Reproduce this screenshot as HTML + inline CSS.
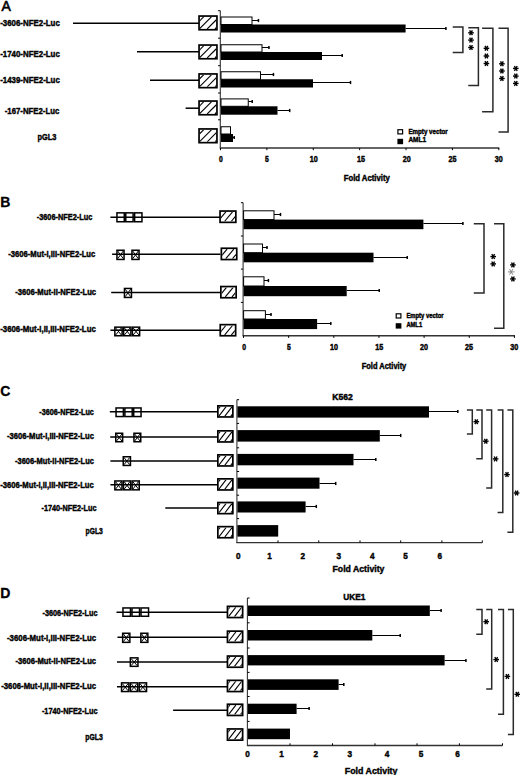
<!DOCTYPE html><html><head><meta charset="utf-8"><style>html,body{margin:0;padding:0;background:#fff;}svg{display:block;}text{font-family:"Liberation Sans",sans-serif;}</style></head><body>
<svg width="520" height="775" viewBox="0 0 520 775">
<rect x="0" y="0" width="520" height="775" fill="#fff"/>
<text x="1.50" y="10.90" font-size="14" font-weight="normal" fill="#000" stroke="#000" stroke-width="0.6">A</text>
<text x="0.21" y="26.00" font-size="8.9" font-weight="bold" fill="#000" stroke="#000" stroke-width="0.42" textLength="59.58" lengthAdjust="spacingAndGlyphs">-3606-NFE2-Luc</text>
<text x="0.21" y="57.00" font-size="8.9" font-weight="bold" fill="#000" stroke="#000" stroke-width="0.42" textLength="59.58" lengthAdjust="spacingAndGlyphs">-1740-NFE2-Luc</text>
<text x="0.21" y="83.00" font-size="8.9" font-weight="bold" fill="#000" stroke="#000" stroke-width="0.42" textLength="59.58" lengthAdjust="spacingAndGlyphs">-1439-NFE2-Luc</text>
<text x="4.71" y="114.20" font-size="8.9" font-weight="bold" fill="#000" stroke="#000" stroke-width="0.42" textLength="54.58" lengthAdjust="spacingAndGlyphs">-167-NFE2-Luc</text>
<text x="37.41" y="140.00" font-size="8.9" font-weight="bold" fill="#000" stroke="#000" stroke-width="0.42" textLength="18.88" lengthAdjust="spacingAndGlyphs">pGL3</text>
<line x1="73.00" y1="23.30" x2="199.00" y2="23.30" stroke="#000" stroke-width="1.5"/>
<line x1="137.00" y1="51.80" x2="199.00" y2="51.80" stroke="#000" stroke-width="1.5"/>
<line x1="150.00" y1="80.30" x2="199.00" y2="80.30" stroke="#000" stroke-width="1.5"/>
<line x1="185.60" y1="108.20" x2="199.00" y2="108.20" stroke="#000" stroke-width="1.5"/>
<g>
<rect x="199.05" y="16.05" width="17.90" height="13.70" fill="#fff" stroke="#000" stroke-width="1.7"/>
<clipPath id="c15"><rect x="199.90" y="16.90" width="16.20" height="12.00"/></clipPath>
<g clip-path="url(#c15)">
<line x1="183.80" y1="28.90" x2="195.80" y2="16.90" stroke="#000" stroke-width="1.1"/>
<line x1="191.60" y1="28.90" x2="203.60" y2="16.90" stroke="#000" stroke-width="1.1"/>
<line x1="199.40" y1="28.90" x2="211.40" y2="16.90" stroke="#000" stroke-width="1.1"/>
<line x1="207.20" y1="28.90" x2="219.20" y2="16.90" stroke="#000" stroke-width="1.1"/>
<line x1="215.00" y1="28.90" x2="227.00" y2="16.90" stroke="#000" stroke-width="1.1"/>
</g></g>
<g>
<rect x="199.05" y="45.05" width="17.90" height="13.70" fill="#fff" stroke="#000" stroke-width="1.7"/>
<clipPath id="c25"><rect x="199.90" y="45.90" width="16.20" height="12.00"/></clipPath>
<g clip-path="url(#c25)">
<line x1="183.80" y1="57.90" x2="195.80" y2="45.90" stroke="#000" stroke-width="1.1"/>
<line x1="191.60" y1="57.90" x2="203.60" y2="45.90" stroke="#000" stroke-width="1.1"/>
<line x1="199.40" y1="57.90" x2="211.40" y2="45.90" stroke="#000" stroke-width="1.1"/>
<line x1="207.20" y1="57.90" x2="219.20" y2="45.90" stroke="#000" stroke-width="1.1"/>
<line x1="215.00" y1="57.90" x2="227.00" y2="45.90" stroke="#000" stroke-width="1.1"/>
</g></g>
<g>
<rect x="199.05" y="73.95" width="17.90" height="13.70" fill="#fff" stroke="#000" stroke-width="1.7"/>
<clipPath id="c35"><rect x="199.90" y="74.80" width="16.20" height="12.00"/></clipPath>
<g clip-path="url(#c35)">
<line x1="183.80" y1="86.80" x2="195.80" y2="74.80" stroke="#000" stroke-width="1.1"/>
<line x1="191.60" y1="86.80" x2="203.60" y2="74.80" stroke="#000" stroke-width="1.1"/>
<line x1="199.40" y1="86.80" x2="211.40" y2="74.80" stroke="#000" stroke-width="1.1"/>
<line x1="207.20" y1="86.80" x2="219.20" y2="74.80" stroke="#000" stroke-width="1.1"/>
<line x1="215.00" y1="86.80" x2="227.00" y2="74.80" stroke="#000" stroke-width="1.1"/>
</g></g>
<g>
<rect x="199.05" y="101.05" width="17.90" height="13.70" fill="#fff" stroke="#000" stroke-width="1.7"/>
<clipPath id="c45"><rect x="199.90" y="101.90" width="16.20" height="12.00"/></clipPath>
<g clip-path="url(#c45)">
<line x1="183.80" y1="113.90" x2="195.80" y2="101.90" stroke="#000" stroke-width="1.1"/>
<line x1="191.60" y1="113.90" x2="203.60" y2="101.90" stroke="#000" stroke-width="1.1"/>
<line x1="199.40" y1="113.90" x2="211.40" y2="101.90" stroke="#000" stroke-width="1.1"/>
<line x1="207.20" y1="113.90" x2="219.20" y2="101.90" stroke="#000" stroke-width="1.1"/>
<line x1="215.00" y1="113.90" x2="227.00" y2="101.90" stroke="#000" stroke-width="1.1"/>
</g></g>
<g>
<rect x="199.05" y="128.95" width="17.90" height="13.70" fill="#fff" stroke="#000" stroke-width="1.7"/>
<clipPath id="c55"><rect x="199.90" y="129.80" width="16.20" height="12.00"/></clipPath>
<g clip-path="url(#c55)">
<line x1="183.80" y1="141.80" x2="195.80" y2="129.80" stroke="#000" stroke-width="1.1"/>
<line x1="191.60" y1="141.80" x2="203.60" y2="129.80" stroke="#000" stroke-width="1.1"/>
<line x1="199.40" y1="141.80" x2="211.40" y2="129.80" stroke="#000" stroke-width="1.1"/>
<line x1="207.20" y1="141.80" x2="219.20" y2="129.80" stroke="#000" stroke-width="1.1"/>
<line x1="215.00" y1="141.80" x2="227.00" y2="129.80" stroke="#000" stroke-width="1.1"/>
</g></g>
<line x1="220.30" y1="10.70" x2="220.30" y2="148.30" stroke="#333" stroke-width="1.1"/>
<line x1="218.10" y1="10.70" x2="220.30" y2="10.70" stroke="#000" stroke-width="1.0"/>
<line x1="218.10" y1="38.20" x2="220.30" y2="38.20" stroke="#000" stroke-width="1.0"/>
<line x1="218.10" y1="65.70" x2="220.30" y2="65.70" stroke="#000" stroke-width="1.0"/>
<line x1="218.10" y1="93.00" x2="220.30" y2="93.00" stroke="#000" stroke-width="1.0"/>
<line x1="218.10" y1="119.80" x2="220.30" y2="119.80" stroke="#000" stroke-width="1.0"/>
<line x1="219.80" y1="148.00" x2="499.30" y2="148.00" stroke="#333" stroke-width="1.4"/>
<line x1="220.50" y1="148.00" x2="220.50" y2="150.20" stroke="#000" stroke-width="1.0"/>
<line x1="266.88" y1="148.00" x2="266.88" y2="150.20" stroke="#000" stroke-width="1.0"/>
<line x1="313.27" y1="148.00" x2="313.27" y2="150.20" stroke="#000" stroke-width="1.0"/>
<line x1="359.65" y1="148.00" x2="359.65" y2="150.20" stroke="#000" stroke-width="1.0"/>
<line x1="406.04" y1="148.00" x2="406.04" y2="150.20" stroke="#000" stroke-width="1.0"/>
<line x1="452.42" y1="148.00" x2="452.42" y2="150.20" stroke="#000" stroke-width="1.0"/>
<line x1="498.81" y1="148.00" x2="498.81" y2="150.20" stroke="#000" stroke-width="1.0"/>
<text x="219.11" y="162.00" font-size="8.3" font-weight="bold" fill="#000" stroke="#000" stroke-width="0.42" textLength="3.78" lengthAdjust="spacingAndGlyphs">0</text>
<text x="265.11" y="162.00" font-size="8.3" font-weight="bold" fill="#000" stroke="#000" stroke-width="0.42" textLength="3.78" lengthAdjust="spacingAndGlyphs">5</text>
<text x="309.76" y="162.00" font-size="8.3" font-weight="bold" fill="#000" stroke="#000" stroke-width="0.42" textLength="7.98" lengthAdjust="spacingAndGlyphs">10</text>
<text x="357.01" y="162.00" font-size="8.3" font-weight="bold" fill="#000" stroke="#000" stroke-width="0.42" textLength="7.98" lengthAdjust="spacingAndGlyphs">15</text>
<text x="402.71" y="162.00" font-size="8.3" font-weight="bold" fill="#000" stroke="#000" stroke-width="0.42" textLength="7.98" lengthAdjust="spacingAndGlyphs">20</text>
<text x="448.41" y="162.00" font-size="8.3" font-weight="bold" fill="#000" stroke="#000" stroke-width="0.42" textLength="7.98" lengthAdjust="spacingAndGlyphs">25</text>
<text x="494.81" y="162.00" font-size="8.3" font-weight="bold" fill="#000" stroke="#000" stroke-width="0.42" textLength="7.98" lengthAdjust="spacingAndGlyphs">30</text>
<text x="343.71" y="180.80" font-size="8.2" font-weight="bold" fill="#000" stroke="#000" stroke-width="0.42" textLength="46.08" lengthAdjust="spacingAndGlyphs">Fold Activity</text>
<rect x="397.90" y="129.70" width="4.70" height="4.20" fill="#fff" stroke="#000" stroke-width="1.2"/>
<rect x="397.40" y="138.80" width="5.70" height="5.40" fill="#000"/>
<text x="408.41" y="134.10" font-size="7.0" font-weight="bold" fill="#000" stroke="#000" stroke-width="0.42" textLength="39.28" lengthAdjust="spacingAndGlyphs">Empty vector</text>
<text x="408.41" y="142.20" font-size="7.0" font-weight="bold" fill="#000" stroke="#000" stroke-width="0.42" textLength="17.68" lengthAdjust="spacingAndGlyphs">AML1</text>
<line x1="252.00" y1="20.50" x2="258.75" y2="20.50" stroke="#000" stroke-width="1.0"/>
<line x1="258.45" y1="18.90" x2="258.45" y2="22.10" stroke="#000" stroke-width="1.5"/>
<rect x="221.00" y="17.00" width="31.00" height="7.50" fill="#fff" stroke="#000" stroke-width="1.0"/>
<line x1="405.60" y1="28.50" x2="446.20" y2="28.50" stroke="#000" stroke-width="1.0"/>
<line x1="445.90" y1="26.90" x2="445.90" y2="30.10" stroke="#000" stroke-width="1.5"/>
<rect x="221.00" y="24.50" width="184.60" height="8.00" fill="#000"/>
<line x1="262.00" y1="47.50" x2="269.25" y2="47.50" stroke="#000" stroke-width="1.0"/>
<line x1="268.95" y1="45.90" x2="268.95" y2="49.10" stroke="#000" stroke-width="1.5"/>
<rect x="221.00" y="44.75" width="41.00" height="7.25" fill="#fff" stroke="#000" stroke-width="1.0"/>
<line x1="322.00" y1="55.50" x2="342.50" y2="55.50" stroke="#000" stroke-width="1.0"/>
<line x1="342.20" y1="53.90" x2="342.20" y2="57.10" stroke="#000" stroke-width="1.5"/>
<rect x="221.00" y="52.00" width="101.00" height="8.00" fill="#000"/>
<line x1="260.50" y1="74.50" x2="273.75" y2="74.50" stroke="#000" stroke-width="1.0"/>
<line x1="273.45" y1="72.90" x2="273.45" y2="76.10" stroke="#000" stroke-width="1.5"/>
<rect x="221.00" y="71.75" width="39.50" height="7.50" fill="#fff" stroke="#000" stroke-width="1.0"/>
<line x1="313.00" y1="82.50" x2="350.80" y2="82.50" stroke="#000" stroke-width="1.0"/>
<line x1="350.50" y1="80.90" x2="350.50" y2="84.10" stroke="#000" stroke-width="1.5"/>
<rect x="221.00" y="79.25" width="92.00" height="8.25" fill="#000"/>
<line x1="248.25" y1="101.50" x2="252.50" y2="101.50" stroke="#000" stroke-width="1.0"/>
<line x1="252.20" y1="99.90" x2="252.20" y2="103.10" stroke="#000" stroke-width="1.5"/>
<rect x="221.00" y="98.90" width="27.25" height="7.40" fill="#fff" stroke="#000" stroke-width="1.0"/>
<line x1="277.50" y1="110.50" x2="290.00" y2="110.50" stroke="#000" stroke-width="1.0"/>
<line x1="289.70" y1="108.90" x2="289.70" y2="112.10" stroke="#000" stroke-width="1.5"/>
<rect x="221.00" y="106.30" width="56.50" height="8.40" fill="#000"/>
<rect x="221.00" y="126.75" width="9.50" height="7.25" fill="#fff" stroke="#000" stroke-width="1.0"/>
<line x1="233.00" y1="137.50" x2="234.50" y2="137.50" stroke="#000" stroke-width="1.0"/>
<line x1="234.20" y1="135.90" x2="234.20" y2="139.10" stroke="#000" stroke-width="1.5"/>
<rect x="221.00" y="134.00" width="12.00" height="8.00" fill="#000"/>
<polyline points="452.70,26.90 462.90,26.90 462.90,52.60 452.70,52.60" fill="none" stroke="#2a2a2a" stroke-width="1.5"/>
<line x1="468.20" y1="32.80" x2="473.80" y2="32.80" stroke="#000" stroke-width="1.4"/>
<line x1="469.60" y1="30.38" x2="472.40" y2="35.22" stroke="#000" stroke-width="1.4"/>
<line x1="472.40" y1="30.38" x2="469.60" y2="35.22" stroke="#000" stroke-width="1.4"/>
<line x1="468.20" y1="40.10" x2="473.80" y2="40.10" stroke="#000" stroke-width="1.4"/>
<line x1="469.60" y1="37.68" x2="472.40" y2="42.52" stroke="#000" stroke-width="1.4"/>
<line x1="472.40" y1="37.68" x2="469.60" y2="42.52" stroke="#000" stroke-width="1.4"/>
<line x1="468.20" y1="47.50" x2="473.80" y2="47.50" stroke="#000" stroke-width="1.4"/>
<line x1="469.60" y1="45.08" x2="472.40" y2="49.92" stroke="#000" stroke-width="1.4"/>
<line x1="472.40" y1="45.08" x2="469.60" y2="49.92" stroke="#000" stroke-width="1.4"/>
<polyline points="468.30,27.70 478.40,27.70 478.40,85.40 468.30,85.40" fill="none" stroke="#2a2a2a" stroke-width="1.5"/>
<line x1="483.60" y1="48.30" x2="489.20" y2="48.30" stroke="#000" stroke-width="1.4"/>
<line x1="485.00" y1="45.88" x2="487.80" y2="50.72" stroke="#000" stroke-width="1.4"/>
<line x1="487.80" y1="45.88" x2="485.00" y2="50.72" stroke="#000" stroke-width="1.4"/>
<line x1="483.60" y1="56.00" x2="489.20" y2="56.00" stroke="#000" stroke-width="1.4"/>
<line x1="485.00" y1="53.58" x2="487.80" y2="58.42" stroke="#000" stroke-width="1.4"/>
<line x1="487.80" y1="53.58" x2="485.00" y2="58.42" stroke="#000" stroke-width="1.4"/>
<line x1="483.60" y1="63.50" x2="489.20" y2="63.50" stroke="#000" stroke-width="1.4"/>
<line x1="485.00" y1="61.08" x2="487.80" y2="65.92" stroke="#000" stroke-width="1.4"/>
<line x1="487.80" y1="61.08" x2="485.00" y2="65.92" stroke="#000" stroke-width="1.4"/>
<polyline points="482.10,28.20 492.90,28.20 492.90,111.70 482.10,111.70" fill="none" stroke="#2a2a2a" stroke-width="1.5"/>
<line x1="499.10" y1="63.80" x2="504.70" y2="63.80" stroke="#000" stroke-width="1.4"/>
<line x1="500.50" y1="61.38" x2="503.30" y2="66.22" stroke="#000" stroke-width="1.4"/>
<line x1="503.30" y1="61.38" x2="500.50" y2="66.22" stroke="#000" stroke-width="1.4"/>
<line x1="499.10" y1="71.00" x2="504.70" y2="71.00" stroke="#000" stroke-width="1.4"/>
<line x1="500.50" y1="68.58" x2="503.30" y2="73.42" stroke="#000" stroke-width="1.4"/>
<line x1="503.30" y1="68.58" x2="500.50" y2="73.42" stroke="#000" stroke-width="1.4"/>
<line x1="499.10" y1="78.50" x2="504.70" y2="78.50" stroke="#000" stroke-width="1.4"/>
<line x1="500.50" y1="76.08" x2="503.30" y2="80.92" stroke="#000" stroke-width="1.4"/>
<line x1="503.30" y1="76.08" x2="500.50" y2="80.92" stroke="#000" stroke-width="1.4"/>
<polyline points="498.50,28.30 508.10,28.30 508.10,131.90 498.50,131.90" fill="none" stroke="#2a2a2a" stroke-width="1.5"/>
<line x1="513.00" y1="68.40" x2="518.60" y2="68.40" stroke="#000" stroke-width="1.4"/>
<line x1="514.40" y1="65.98" x2="517.20" y2="70.82" stroke="#000" stroke-width="1.4"/>
<line x1="517.20" y1="65.98" x2="514.40" y2="70.82" stroke="#000" stroke-width="1.4"/>
<line x1="513.00" y1="76.10" x2="518.60" y2="76.10" stroke="#000" stroke-width="1.4"/>
<line x1="514.40" y1="73.68" x2="517.20" y2="78.52" stroke="#000" stroke-width="1.4"/>
<line x1="517.20" y1="73.68" x2="514.40" y2="78.52" stroke="#000" stroke-width="1.4"/>
<line x1="513.00" y1="83.40" x2="518.60" y2="83.40" stroke="#000" stroke-width="1.4"/>
<line x1="514.40" y1="80.98" x2="517.20" y2="85.82" stroke="#000" stroke-width="1.4"/>
<line x1="517.20" y1="80.98" x2="514.40" y2="85.82" stroke="#000" stroke-width="1.4"/>
<text x="0.25" y="206.50" font-size="14" font-weight="bold" fill="#000" stroke="#000" stroke-width="0.3">B</text>
<text x="36.71" y="219.70" font-size="8.7" font-weight="bold" fill="#000" stroke="#000" stroke-width="0.42" textLength="55.58" lengthAdjust="spacingAndGlyphs">-3606-NFE2-Luc</text>
<text x="8.31" y="256.50" font-size="8.7" font-weight="bold" fill="#000" stroke="#000" stroke-width="0.42" textLength="86.98" lengthAdjust="spacingAndGlyphs">-3606-Mut-I,III-NFE2-Luc</text>
<text x="15.21" y="295.30" font-size="8.7" font-weight="bold" fill="#000" stroke="#000" stroke-width="0.42" textLength="80.88" lengthAdjust="spacingAndGlyphs">-3606-Mut-II-NFE2-Luc</text>
<text x="0.21" y="332.00" font-size="8.7" font-weight="bold" fill="#000" stroke="#000" stroke-width="0.42" textLength="95.58" lengthAdjust="spacingAndGlyphs">-3606-Mut-I,II,III-NFE2-Luc</text>
<rect x="116.95" y="212.85" width="7.33" height="8.90" fill="#fff" stroke="#000" stroke-width="1.5"/>
<rect x="125.78" y="212.85" width="7.33" height="8.90" fill="#fff" stroke="#000" stroke-width="1.5"/>
<rect x="134.62" y="212.85" width="7.33" height="8.90" fill="#fff" stroke="#000" stroke-width="1.5"/>
<rect x="116.95" y="250.25" width="7.10" height="9.20" fill="#fff" stroke="#000" stroke-width="1.5"/>
<line x1="117.70" y1="251.00" x2="123.30" y2="258.70" stroke="#000" stroke-width="1.0"/>
<line x1="123.30" y1="251.00" x2="117.70" y2="258.70" stroke="#000" stroke-width="1.0"/>
<rect x="131.95" y="250.25" width="7.10" height="9.20" fill="#fff" stroke="#000" stroke-width="1.5"/>
<line x1="132.70" y1="251.00" x2="138.30" y2="258.70" stroke="#000" stroke-width="1.0"/>
<line x1="138.30" y1="251.00" x2="132.70" y2="258.70" stroke="#000" stroke-width="1.0"/>
<rect x="124.45" y="288.45" width="7.00" height="9.00" fill="#fff" stroke="#000" stroke-width="1.5"/>
<line x1="125.20" y1="289.20" x2="130.70" y2="296.70" stroke="#000" stroke-width="1.0"/>
<line x1="130.70" y1="289.20" x2="125.20" y2="296.70" stroke="#000" stroke-width="1.0"/>
<rect x="114.85" y="327.15" width="7.27" height="8.60" fill="#fff" stroke="#000" stroke-width="1.5"/>
<line x1="115.60" y1="327.90" x2="121.37" y2="335.00" stroke="#000" stroke-width="1.0"/>
<line x1="121.37" y1="327.90" x2="115.60" y2="335.00" stroke="#000" stroke-width="1.0"/>
<rect x="123.62" y="327.15" width="7.27" height="8.60" fill="#fff" stroke="#000" stroke-width="1.5"/>
<line x1="124.37" y1="327.90" x2="130.13" y2="335.00" stroke="#000" stroke-width="1.0"/>
<line x1="130.13" y1="327.90" x2="124.37" y2="335.00" stroke="#000" stroke-width="1.0"/>
<rect x="132.38" y="327.15" width="7.27" height="8.60" fill="#fff" stroke="#000" stroke-width="1.5"/>
<line x1="133.13" y1="327.90" x2="138.90" y2="335.00" stroke="#000" stroke-width="1.0"/>
<line x1="138.90" y1="327.90" x2="133.13" y2="335.00" stroke="#000" stroke-width="1.0"/>
<line x1="110.40" y1="217.30" x2="220.50" y2="217.30" stroke="#000" stroke-width="1.5"/>
<line x1="112.10" y1="254.30" x2="220.50" y2="254.30" stroke="#000" stroke-width="1.5"/>
<line x1="111.20" y1="292.60" x2="220.50" y2="292.60" stroke="#000" stroke-width="1.5"/>
<line x1="110.40" y1="330.20" x2="220.50" y2="330.20" stroke="#000" stroke-width="1.5"/>
<g>
<rect x="220.05" y="211.05" width="15.80" height="11.30" fill="#fff" stroke="#000" stroke-width="1.7"/>
<clipPath id="c189"><rect x="220.90" y="211.90" width="14.10" height="9.60"/></clipPath>
<g clip-path="url(#c189)">
<line x1="211.10" y1="221.50" x2="219.10" y2="211.90" stroke="#000" stroke-width="1.1"/>
<line x1="217.80" y1="221.50" x2="225.80" y2="211.90" stroke="#000" stroke-width="1.1"/>
<line x1="224.50" y1="221.50" x2="232.50" y2="211.90" stroke="#000" stroke-width="1.1"/>
<line x1="231.20" y1="221.50" x2="239.20" y2="211.90" stroke="#000" stroke-width="1.1"/>
</g></g>
<g>
<rect x="221.35" y="248.25" width="15.40" height="11.30" fill="#fff" stroke="#000" stroke-width="1.7"/>
<clipPath id="c198"><rect x="222.20" y="249.10" width="13.70" height="9.60"/></clipPath>
<g clip-path="url(#c198)">
<line x1="212.40" y1="258.70" x2="220.40" y2="249.10" stroke="#000" stroke-width="1.1"/>
<line x1="219.10" y1="258.70" x2="227.10" y2="249.10" stroke="#000" stroke-width="1.1"/>
<line x1="225.80" y1="258.70" x2="233.80" y2="249.10" stroke="#000" stroke-width="1.1"/>
<line x1="232.50" y1="258.70" x2="240.50" y2="249.10" stroke="#000" stroke-width="1.1"/>
</g></g>
<g>
<rect x="220.85" y="286.55" width="15.30" height="11.20" fill="#fff" stroke="#000" stroke-width="1.7"/>
<clipPath id="c207"><rect x="221.70" y="287.40" width="13.60" height="9.50"/></clipPath>
<g clip-path="url(#c207)">
<line x1="211.90" y1="296.90" x2="219.82" y2="287.40" stroke="#000" stroke-width="1.1"/>
<line x1="218.60" y1="296.90" x2="226.52" y2="287.40" stroke="#000" stroke-width="1.1"/>
<line x1="225.30" y1="296.90" x2="233.22" y2="287.40" stroke="#000" stroke-width="1.1"/>
<line x1="232.00" y1="296.90" x2="239.92" y2="287.40" stroke="#000" stroke-width="1.1"/>
</g></g>
<g>
<rect x="220.25" y="324.65" width="15.40" height="11.10" fill="#fff" stroke="#000" stroke-width="1.7"/>
<clipPath id="c216"><rect x="221.10" y="325.50" width="13.70" height="9.40"/></clipPath>
<g clip-path="url(#c216)">
<line x1="211.30" y1="334.90" x2="219.13" y2="325.50" stroke="#000" stroke-width="1.1"/>
<line x1="218.00" y1="334.90" x2="225.83" y2="325.50" stroke="#000" stroke-width="1.1"/>
<line x1="224.70" y1="334.90" x2="232.53" y2="325.50" stroke="#000" stroke-width="1.1"/>
<line x1="231.40" y1="334.90" x2="239.23" y2="325.50" stroke="#000" stroke-width="1.1"/>
</g></g>
<line x1="243.10" y1="202.70" x2="243.10" y2="335.70" stroke="#333" stroke-width="1.1"/>
<line x1="240.90" y1="202.70" x2="243.10" y2="202.70" stroke="#000" stroke-width="1.0"/>
<line x1="240.90" y1="236.00" x2="243.10" y2="236.00" stroke="#000" stroke-width="1.0"/>
<line x1="240.90" y1="269.10" x2="243.10" y2="269.10" stroke="#000" stroke-width="1.0"/>
<line x1="240.90" y1="302.40" x2="243.10" y2="302.40" stroke="#000" stroke-width="1.0"/>
<line x1="242.60" y1="335.70" x2="515.00" y2="335.70" stroke="#333" stroke-width="1.4"/>
<line x1="243.50" y1="335.70" x2="243.50" y2="337.90" stroke="#000" stroke-width="1.0"/>
<line x1="288.65" y1="335.70" x2="288.65" y2="337.90" stroke="#000" stroke-width="1.0"/>
<line x1="333.80" y1="335.70" x2="333.80" y2="337.90" stroke="#000" stroke-width="1.0"/>
<line x1="378.95" y1="335.70" x2="378.95" y2="337.90" stroke="#000" stroke-width="1.0"/>
<line x1="424.10" y1="335.70" x2="424.10" y2="337.90" stroke="#000" stroke-width="1.0"/>
<line x1="469.25" y1="335.70" x2="469.25" y2="337.90" stroke="#000" stroke-width="1.0"/>
<line x1="514.40" y1="335.70" x2="514.40" y2="337.90" stroke="#000" stroke-width="1.0"/>
<text x="242.31" y="350.00" font-size="8.3" font-weight="bold" fill="#000" stroke="#000" stroke-width="0.42" textLength="3.78" lengthAdjust="spacingAndGlyphs">0</text>
<text x="286.91" y="350.00" font-size="8.3" font-weight="bold" fill="#000" stroke="#000" stroke-width="0.42" textLength="3.78" lengthAdjust="spacingAndGlyphs">5</text>
<text x="330.01" y="350.00" font-size="8.3" font-weight="bold" fill="#000" stroke="#000" stroke-width="0.42" textLength="7.98" lengthAdjust="spacingAndGlyphs">10</text>
<text x="375.21" y="350.00" font-size="8.3" font-weight="bold" fill="#000" stroke="#000" stroke-width="0.42" textLength="7.98" lengthAdjust="spacingAndGlyphs">15</text>
<text x="420.01" y="350.00" font-size="8.3" font-weight="bold" fill="#000" stroke="#000" stroke-width="0.42" textLength="7.98" lengthAdjust="spacingAndGlyphs">20</text>
<text x="465.01" y="350.00" font-size="8.3" font-weight="bold" fill="#000" stroke="#000" stroke-width="0.42" textLength="7.98" lengthAdjust="spacingAndGlyphs">25</text>
<text x="510.21" y="350.00" font-size="8.3" font-weight="bold" fill="#000" stroke="#000" stroke-width="0.42" textLength="7.98" lengthAdjust="spacingAndGlyphs">30</text>
<text x="361.71" y="369.20" font-size="8.2" font-weight="bold" fill="#000" stroke="#000" stroke-width="0.42" textLength="44.58" lengthAdjust="spacingAndGlyphs">Fold Activity</text>
<rect x="396.20" y="313.80" width="4.70" height="4.20" fill="#fff" stroke="#000" stroke-width="1.2"/>
<rect x="395.70" y="323.20" width="5.70" height="5.40" fill="#000"/>
<text x="406.41" y="318.20" font-size="7.0" font-weight="bold" fill="#000" stroke="#000" stroke-width="0.42" textLength="37.18" lengthAdjust="spacingAndGlyphs">Empty vector</text>
<text x="406.41" y="326.60" font-size="7.0" font-weight="bold" fill="#000" stroke="#000" stroke-width="0.42" textLength="15.68" lengthAdjust="spacingAndGlyphs">AML1</text>
<line x1="274.00" y1="214.50" x2="280.80" y2="214.50" stroke="#000" stroke-width="1.0"/>
<line x1="280.50" y1="212.90" x2="280.50" y2="216.10" stroke="#000" stroke-width="1.5"/>
<rect x="243.60" y="210.80" width="30.40" height="8.80" fill="#fff" stroke="#000" stroke-width="1.0"/>
<line x1="423.40" y1="223.50" x2="463.20" y2="223.50" stroke="#000" stroke-width="1.0"/>
<line x1="462.90" y1="221.90" x2="462.90" y2="225.10" stroke="#000" stroke-width="1.5"/>
<rect x="243.60" y="219.60" width="179.80" height="9.60" fill="#000"/>
<line x1="262.50" y1="247.50" x2="267.30" y2="247.50" stroke="#000" stroke-width="1.0"/>
<line x1="267.00" y1="245.90" x2="267.00" y2="249.10" stroke="#000" stroke-width="1.5"/>
<rect x="243.60" y="244.00" width="18.90" height="8.70" fill="#fff" stroke="#000" stroke-width="1.0"/>
<line x1="373.50" y1="257.50" x2="407.50" y2="257.50" stroke="#000" stroke-width="1.0"/>
<line x1="407.20" y1="255.90" x2="407.20" y2="259.10" stroke="#000" stroke-width="1.5"/>
<rect x="243.60" y="252.70" width="129.90" height="9.60" fill="#000"/>
<line x1="264.00" y1="280.50" x2="268.70" y2="280.50" stroke="#000" stroke-width="1.0"/>
<line x1="268.40" y1="278.90" x2="268.40" y2="282.10" stroke="#000" stroke-width="1.5"/>
<rect x="243.60" y="276.80" width="20.40" height="9.20" fill="#fff" stroke="#000" stroke-width="1.0"/>
<line x1="346.70" y1="290.50" x2="379.50" y2="290.50" stroke="#000" stroke-width="1.0"/>
<line x1="379.20" y1="288.90" x2="379.20" y2="292.10" stroke="#000" stroke-width="1.5"/>
<rect x="243.60" y="286.00" width="103.10" height="10.20" fill="#000"/>
<line x1="265.40" y1="314.50" x2="271.30" y2="314.50" stroke="#000" stroke-width="1.0"/>
<line x1="271.00" y1="312.90" x2="271.00" y2="316.10" stroke="#000" stroke-width="1.5"/>
<rect x="243.60" y="310.70" width="21.80" height="8.30" fill="#fff" stroke="#000" stroke-width="1.0"/>
<line x1="317.10" y1="323.50" x2="331.10" y2="323.50" stroke="#000" stroke-width="1.0"/>
<line x1="330.80" y1="321.90" x2="330.80" y2="325.10" stroke="#000" stroke-width="1.5"/>
<rect x="243.60" y="319.00" width="73.50" height="10.10" fill="#000"/>
<polyline points="473.80,223.80 484.00,223.80 484.00,293.00 473.80,293.00" fill="none" stroke="#2a2a2a" stroke-width="1.5"/>
<line x1="490.40" y1="256.60" x2="496.00" y2="256.60" stroke="#000" stroke-width="1.4"/>
<line x1="491.80" y1="254.18" x2="494.60" y2="259.02" stroke="#000" stroke-width="1.4"/>
<line x1="494.60" y1="254.18" x2="491.80" y2="259.02" stroke="#000" stroke-width="1.4"/>
<line x1="490.40" y1="263.90" x2="496.00" y2="263.90" stroke="#000" stroke-width="1.4"/>
<line x1="491.80" y1="261.48" x2="494.60" y2="266.32" stroke="#000" stroke-width="1.4"/>
<line x1="494.60" y1="261.48" x2="491.80" y2="266.32" stroke="#000" stroke-width="1.4"/>
<polyline points="494.00,223.80 503.80,223.80 503.80,328.30 494.00,328.30" fill="none" stroke="#2a2a2a" stroke-width="1.5"/>
<line x1="510.10" y1="264.90" x2="515.70" y2="264.90" stroke="#000" stroke-width="1.4"/>
<line x1="511.50" y1="262.48" x2="514.30" y2="267.32" stroke="#000" stroke-width="1.4"/>
<line x1="514.30" y1="262.48" x2="511.50" y2="267.32" stroke="#000" stroke-width="1.4"/>
<line x1="507.90" y1="271.90" x2="514.50" y2="271.90" stroke="#888" stroke-width="1.0"/>
<line x1="509.55" y1="269.04" x2="512.85" y2="274.76" stroke="#888" stroke-width="1.0"/>
<line x1="512.85" y1="269.04" x2="509.55" y2="274.76" stroke="#888" stroke-width="1.0"/>
<line x1="510.10" y1="278.90" x2="515.70" y2="278.90" stroke="#000" stroke-width="1.4"/>
<line x1="511.50" y1="276.48" x2="514.30" y2="281.32" stroke="#000" stroke-width="1.4"/>
<line x1="514.30" y1="276.48" x2="511.50" y2="281.32" stroke="#000" stroke-width="1.4"/>
<text x="0.25" y="395.60" font-size="14" font-weight="bold" fill="#000" stroke="#000" stroke-width="0.3">C</text>
<text x="39.31" y="415.00" font-size="8.7" font-weight="bold" fill="#000" stroke="#000" stroke-width="0.42" textLength="54.58" lengthAdjust="spacingAndGlyphs">-3606-NFE2-Luc</text>
<text x="7.01" y="439.30" font-size="8.7" font-weight="bold" fill="#000" stroke="#000" stroke-width="0.42" textLength="86.88" lengthAdjust="spacingAndGlyphs">-3606-Mut-I,III-NFE2-Luc</text>
<text x="15.01" y="463.80" font-size="8.7" font-weight="bold" fill="#000" stroke="#000" stroke-width="0.42" textLength="78.88" lengthAdjust="spacingAndGlyphs">-3606-Mut-II-NFE2-Luc</text>
<text x="0.21" y="487.60" font-size="8.7" font-weight="bold" fill="#000" stroke="#000" stroke-width="0.42" textLength="93.58" lengthAdjust="spacingAndGlyphs">-3606-Mut-I,II,III-NFE2-Luc</text>
<text x="41.51" y="510.80" font-size="8.7" font-weight="bold" fill="#000" stroke="#000" stroke-width="0.42" textLength="54.98" lengthAdjust="spacingAndGlyphs">-1740-NFE2-Luc</text>
<text x="85.51" y="534.20" font-size="8.7" font-weight="bold" fill="#000" stroke="#000" stroke-width="0.42" textLength="17.28" lengthAdjust="spacingAndGlyphs">pGL3</text>
<rect x="116.05" y="407.95" width="7.33" height="8.60" fill="#fff" stroke="#000" stroke-width="1.5"/>
<rect x="124.88" y="407.95" width="7.33" height="8.60" fill="#fff" stroke="#000" stroke-width="1.5"/>
<rect x="133.72" y="407.95" width="7.33" height="8.60" fill="#fff" stroke="#000" stroke-width="1.5"/>
<rect x="115.75" y="433.25" width="6.90" height="8.50" fill="#fff" stroke="#000" stroke-width="1.5"/>
<line x1="116.50" y1="434.00" x2="121.90" y2="441.00" stroke="#000" stroke-width="1.0"/>
<line x1="121.90" y1="434.00" x2="116.50" y2="441.00" stroke="#000" stroke-width="1.0"/>
<rect x="133.95" y="433.25" width="6.80" height="8.50" fill="#fff" stroke="#000" stroke-width="1.5"/>
<line x1="134.70" y1="434.00" x2="140.00" y2="441.00" stroke="#000" stroke-width="1.0"/>
<line x1="140.00" y1="434.00" x2="134.70" y2="441.00" stroke="#000" stroke-width="1.0"/>
<rect x="123.25" y="456.75" width="7.20" height="8.70" fill="#fff" stroke="#000" stroke-width="1.5"/>
<line x1="124.00" y1="457.50" x2="129.70" y2="464.70" stroke="#000" stroke-width="1.0"/>
<line x1="129.70" y1="457.50" x2="124.00" y2="464.70" stroke="#000" stroke-width="1.0"/>
<rect x="114.85" y="480.95" width="7.13" height="8.90" fill="#fff" stroke="#000" stroke-width="1.5"/>
<line x1="115.60" y1="481.70" x2="121.23" y2="489.10" stroke="#000" stroke-width="1.0"/>
<line x1="121.23" y1="481.70" x2="115.60" y2="489.10" stroke="#000" stroke-width="1.0"/>
<rect x="123.48" y="480.95" width="7.13" height="8.90" fill="#fff" stroke="#000" stroke-width="1.5"/>
<line x1="124.23" y1="481.70" x2="129.87" y2="489.10" stroke="#000" stroke-width="1.0"/>
<line x1="129.87" y1="481.70" x2="124.23" y2="489.10" stroke="#000" stroke-width="1.0"/>
<rect x="132.12" y="480.95" width="7.13" height="8.90" fill="#fff" stroke="#000" stroke-width="1.5"/>
<line x1="132.87" y1="481.70" x2="138.50" y2="489.10" stroke="#000" stroke-width="1.0"/>
<line x1="138.50" y1="481.70" x2="132.87" y2="489.10" stroke="#000" stroke-width="1.0"/>
<line x1="109.80" y1="411.80" x2="218.00" y2="411.80" stroke="#000" stroke-width="1.5"/>
<line x1="110.20" y1="436.90" x2="218.00" y2="436.90" stroke="#000" stroke-width="1.5"/>
<line x1="110.40" y1="461.10" x2="218.00" y2="461.10" stroke="#000" stroke-width="1.5"/>
<line x1="110.40" y1="484.70" x2="218.00" y2="484.70" stroke="#000" stroke-width="1.5"/>
<line x1="165.30" y1="508.00" x2="218.00" y2="508.00" stroke="#000" stroke-width="1.5"/>
<g>
<rect x="217.85" y="405.85" width="15.00" height="11.10" fill="#fff" stroke="#000" stroke-width="1.7"/>
<clipPath id="c324"><rect x="218.70" y="406.70" width="13.30" height="9.40"/></clipPath>
<g clip-path="url(#c324)">
<line x1="206.90" y1="416.10" x2="214.13" y2="406.70" stroke="#000" stroke-width="1.1"/>
<line x1="212.90" y1="416.10" x2="220.13" y2="406.70" stroke="#000" stroke-width="1.1"/>
<line x1="218.90" y1="416.10" x2="226.13" y2="406.70" stroke="#000" stroke-width="1.1"/>
<line x1="224.90" y1="416.10" x2="232.13" y2="406.70" stroke="#000" stroke-width="1.1"/>
<line x1="230.90" y1="416.10" x2="238.13" y2="406.70" stroke="#000" stroke-width="1.1"/>
</g></g>
<g>
<rect x="217.85" y="430.85" width="15.00" height="11.10" fill="#fff" stroke="#000" stroke-width="1.7"/>
<clipPath id="c334"><rect x="218.70" y="431.70" width="13.30" height="9.40"/></clipPath>
<g clip-path="url(#c334)">
<line x1="206.90" y1="441.10" x2="214.13" y2="431.70" stroke="#000" stroke-width="1.1"/>
<line x1="212.90" y1="441.10" x2="220.13" y2="431.70" stroke="#000" stroke-width="1.1"/>
<line x1="218.90" y1="441.10" x2="226.13" y2="431.70" stroke="#000" stroke-width="1.1"/>
<line x1="224.90" y1="441.10" x2="232.13" y2="431.70" stroke="#000" stroke-width="1.1"/>
<line x1="230.90" y1="441.10" x2="238.13" y2="431.70" stroke="#000" stroke-width="1.1"/>
</g></g>
<g>
<rect x="217.85" y="454.85" width="15.00" height="11.10" fill="#fff" stroke="#000" stroke-width="1.7"/>
<clipPath id="c344"><rect x="218.70" y="455.70" width="13.30" height="9.40"/></clipPath>
<g clip-path="url(#c344)">
<line x1="206.90" y1="465.10" x2="214.13" y2="455.70" stroke="#000" stroke-width="1.1"/>
<line x1="212.90" y1="465.10" x2="220.13" y2="455.70" stroke="#000" stroke-width="1.1"/>
<line x1="218.90" y1="465.10" x2="226.13" y2="455.70" stroke="#000" stroke-width="1.1"/>
<line x1="224.90" y1="465.10" x2="232.13" y2="455.70" stroke="#000" stroke-width="1.1"/>
<line x1="230.90" y1="465.10" x2="238.13" y2="455.70" stroke="#000" stroke-width="1.1"/>
</g></g>
<g>
<rect x="217.85" y="478.85" width="15.00" height="11.10" fill="#fff" stroke="#000" stroke-width="1.7"/>
<clipPath id="c354"><rect x="218.70" y="479.70" width="13.30" height="9.40"/></clipPath>
<g clip-path="url(#c354)">
<line x1="206.90" y1="489.10" x2="214.13" y2="479.70" stroke="#000" stroke-width="1.1"/>
<line x1="212.90" y1="489.10" x2="220.13" y2="479.70" stroke="#000" stroke-width="1.1"/>
<line x1="218.90" y1="489.10" x2="226.13" y2="479.70" stroke="#000" stroke-width="1.1"/>
<line x1="224.90" y1="489.10" x2="232.13" y2="479.70" stroke="#000" stroke-width="1.1"/>
<line x1="230.90" y1="489.10" x2="238.13" y2="479.70" stroke="#000" stroke-width="1.1"/>
</g></g>
<g>
<rect x="217.85" y="502.55" width="15.00" height="11.10" fill="#fff" stroke="#000" stroke-width="1.7"/>
<clipPath id="c364"><rect x="218.70" y="503.40" width="13.30" height="9.40"/></clipPath>
<g clip-path="url(#c364)">
<line x1="206.90" y1="512.80" x2="214.13" y2="503.40" stroke="#000" stroke-width="1.1"/>
<line x1="212.90" y1="512.80" x2="220.13" y2="503.40" stroke="#000" stroke-width="1.1"/>
<line x1="218.90" y1="512.80" x2="226.13" y2="503.40" stroke="#000" stroke-width="1.1"/>
<line x1="224.90" y1="512.80" x2="232.13" y2="503.40" stroke="#000" stroke-width="1.1"/>
<line x1="230.90" y1="512.80" x2="238.13" y2="503.40" stroke="#000" stroke-width="1.1"/>
</g></g>
<g>
<rect x="217.85" y="526.65" width="15.00" height="11.10" fill="#fff" stroke="#000" stroke-width="1.7"/>
<clipPath id="c374"><rect x="218.70" y="527.50" width="13.30" height="9.40"/></clipPath>
<g clip-path="url(#c374)">
<line x1="206.90" y1="536.90" x2="214.13" y2="527.50" stroke="#000" stroke-width="1.1"/>
<line x1="212.90" y1="536.90" x2="220.13" y2="527.50" stroke="#000" stroke-width="1.1"/>
<line x1="218.90" y1="536.90" x2="226.13" y2="527.50" stroke="#000" stroke-width="1.1"/>
<line x1="224.90" y1="536.90" x2="232.13" y2="527.50" stroke="#000" stroke-width="1.1"/>
<line x1="230.90" y1="536.90" x2="238.13" y2="527.50" stroke="#000" stroke-width="1.1"/>
</g></g>
<line x1="236.90" y1="399.70" x2="236.90" y2="543.00" stroke="#333" stroke-width="1.1"/>
<line x1="236.90" y1="399.70" x2="239.10" y2="399.70" stroke="#000" stroke-width="1.0"/>
<line x1="236.90" y1="423.40" x2="239.10" y2="423.40" stroke="#000" stroke-width="1.0"/>
<line x1="236.90" y1="447.80" x2="239.10" y2="447.80" stroke="#000" stroke-width="1.0"/>
<line x1="236.90" y1="471.50" x2="239.10" y2="471.50" stroke="#000" stroke-width="1.0"/>
<line x1="236.90" y1="495.20" x2="239.10" y2="495.20" stroke="#000" stroke-width="1.0"/>
<line x1="236.90" y1="518.60" x2="239.10" y2="518.60" stroke="#000" stroke-width="1.0"/>
<line x1="236.40" y1="542.60" x2="482.30" y2="542.60" stroke="#333" stroke-width="1.4"/>
<line x1="278.00" y1="542.60" x2="278.00" y2="540.40" stroke="#000" stroke-width="1.0"/>
<line x1="318.75" y1="542.60" x2="318.75" y2="540.40" stroke="#000" stroke-width="1.0"/>
<line x1="360.00" y1="542.60" x2="360.00" y2="540.40" stroke="#000" stroke-width="1.0"/>
<line x1="400.70" y1="542.60" x2="400.70" y2="540.40" stroke="#000" stroke-width="1.0"/>
<line x1="441.90" y1="542.60" x2="441.90" y2="540.40" stroke="#000" stroke-width="1.0"/>
<line x1="482.30" y1="542.60" x2="482.30" y2="540.40" stroke="#000" stroke-width="1.0"/>
<text x="235.96" y="559.20" font-size="9.2" font-weight="bold" fill="#000" stroke="#000" stroke-width="0.42" textLength="4.58" lengthAdjust="spacingAndGlyphs">0</text>
<text x="267.21" y="559.20" font-size="9.2" font-weight="bold" fill="#000" stroke="#000" stroke-width="0.42" textLength="4.58" lengthAdjust="spacingAndGlyphs">1</text>
<text x="300.41" y="559.20" font-size="9.2" font-weight="bold" fill="#000" stroke="#000" stroke-width="0.42" textLength="4.58" lengthAdjust="spacingAndGlyphs">2</text>
<text x="336.51" y="559.20" font-size="9.2" font-weight="bold" fill="#000" stroke="#000" stroke-width="0.42" textLength="4.58" lengthAdjust="spacingAndGlyphs">3</text>
<text x="370.01" y="559.20" font-size="9.2" font-weight="bold" fill="#000" stroke="#000" stroke-width="0.42" textLength="4.58" lengthAdjust="spacingAndGlyphs">4</text>
<text x="403.21" y="559.20" font-size="9.2" font-weight="bold" fill="#000" stroke="#000" stroke-width="0.42" textLength="4.58" lengthAdjust="spacingAndGlyphs">5</text>
<text x="437.51" y="559.20" font-size="9.2" font-weight="bold" fill="#000" stroke="#000" stroke-width="0.42" textLength="4.58" lengthAdjust="spacingAndGlyphs">6</text>
<text x="332.21" y="400.00" font-size="9.0" font-weight="bold" fill="#000" stroke="#000" stroke-width="0.42" textLength="20.58" lengthAdjust="spacingAndGlyphs">K562</text>
<text x="332.51" y="571.50" font-size="9.3" font-weight="bold" fill="#000" stroke="#000" stroke-width="0.42" textLength="51.88" lengthAdjust="spacingAndGlyphs">Fold Activity</text>
<line x1="429.00" y1="411.50" x2="458.10" y2="411.50" stroke="#000" stroke-width="1.0"/>
<line x1="457.80" y1="409.90" x2="457.80" y2="413.10" stroke="#000" stroke-width="1.5"/>
<rect x="237.40" y="406.30" width="191.60" height="11.30" fill="#000"/>
<line x1="379.80" y1="435.50" x2="401.00" y2="435.50" stroke="#000" stroke-width="1.0"/>
<line x1="400.70" y1="433.90" x2="400.70" y2="437.10" stroke="#000" stroke-width="1.5"/>
<rect x="237.40" y="430.10" width="142.40" height="11.50" fill="#000"/>
<line x1="353.50" y1="459.50" x2="376.10" y2="459.50" stroke="#000" stroke-width="1.0"/>
<line x1="375.80" y1="457.90" x2="375.80" y2="461.10" stroke="#000" stroke-width="1.5"/>
<rect x="237.40" y="453.90" width="116.10" height="11.40" fill="#000"/>
<line x1="319.50" y1="483.50" x2="336.00" y2="483.50" stroke="#000" stroke-width="1.0"/>
<line x1="335.70" y1="481.90" x2="335.70" y2="485.10" stroke="#000" stroke-width="1.5"/>
<rect x="237.40" y="477.60" width="82.10" height="11.10" fill="#000"/>
<line x1="305.60" y1="506.50" x2="316.60" y2="506.50" stroke="#000" stroke-width="1.0"/>
<line x1="316.30" y1="504.90" x2="316.30" y2="508.10" stroke="#000" stroke-width="1.5"/>
<rect x="237.40" y="501.40" width="68.20" height="11.10" fill="#000"/>
<rect x="237.40" y="525.10" width="40.80" height="11.50" fill="#000"/>
<polyline points="466.90,410.00 472.30,410.00 472.30,434.00 466.90,434.00" fill="none" stroke="#2a2a2a" stroke-width="1.5"/>
<line x1="473.50" y1="421.70" x2="479.10" y2="421.70" stroke="#000" stroke-width="1.4"/>
<line x1="474.90" y1="419.28" x2="477.70" y2="424.12" stroke="#000" stroke-width="1.4"/>
<line x1="477.70" y1="419.28" x2="474.90" y2="424.12" stroke="#000" stroke-width="1.4"/>
<polyline points="476.30,410.00 482.00,410.00 482.00,458.70 476.30,458.70" fill="none" stroke="#2a2a2a" stroke-width="1.5"/>
<line x1="483.00" y1="441.20" x2="488.60" y2="441.20" stroke="#000" stroke-width="1.4"/>
<line x1="484.40" y1="438.78" x2="487.20" y2="443.62" stroke="#000" stroke-width="1.4"/>
<line x1="487.20" y1="438.78" x2="484.40" y2="443.62" stroke="#000" stroke-width="1.4"/>
<polyline points="486.20,410.00 491.60,410.00 491.60,488.00 486.20,488.00" fill="none" stroke="#2a2a2a" stroke-width="1.5"/>
<line x1="492.80" y1="458.90" x2="498.40" y2="458.90" stroke="#000" stroke-width="1.4"/>
<line x1="494.20" y1="456.48" x2="497.00" y2="461.32" stroke="#000" stroke-width="1.4"/>
<line x1="497.00" y1="456.48" x2="494.20" y2="461.32" stroke="#000" stroke-width="1.4"/>
<polyline points="497.60,410.00 502.80,410.00 502.80,512.40 497.60,512.40" fill="none" stroke="#2a2a2a" stroke-width="1.5"/>
<line x1="504.20" y1="474.60" x2="509.80" y2="474.60" stroke="#000" stroke-width="1.4"/>
<line x1="505.60" y1="472.18" x2="508.40" y2="477.02" stroke="#000" stroke-width="1.4"/>
<line x1="508.40" y1="472.18" x2="505.60" y2="477.02" stroke="#000" stroke-width="1.4"/>
<polyline points="507.40,410.00 512.80,410.00 512.80,532.20 507.40,532.20" fill="none" stroke="#2a2a2a" stroke-width="1.5"/>
<line x1="513.80" y1="493.00" x2="519.40" y2="493.00" stroke="#000" stroke-width="1.4"/>
<line x1="515.20" y1="490.58" x2="518.00" y2="495.42" stroke="#000" stroke-width="1.4"/>
<line x1="518.00" y1="490.58" x2="515.20" y2="495.42" stroke="#000" stroke-width="1.4"/>
<text x="0.25" y="597.60" font-size="14" font-weight="bold" fill="#000" stroke="#000" stroke-width="0.3">D</text>
<text x="42.51" y="615.80" font-size="8.7" font-weight="bold" fill="#000" stroke="#000" stroke-width="0.42" textLength="54.98" lengthAdjust="spacingAndGlyphs">-3606-NFE2-Luc</text>
<text x="7.01" y="640.50" font-size="8.7" font-weight="bold" fill="#000" stroke="#000" stroke-width="0.42" textLength="89.08" lengthAdjust="spacingAndGlyphs">-3606-Mut-I,III-NFE2-Luc</text>
<text x="15.41" y="664.00" font-size="8.7" font-weight="bold" fill="#000" stroke="#000" stroke-width="0.42" textLength="80.68" lengthAdjust="spacingAndGlyphs">-3606-Mut-II-NFE2-Luc</text>
<text x="1.21" y="689.00" font-size="8.7" font-weight="bold" fill="#000" stroke="#000" stroke-width="0.42" textLength="94.88" lengthAdjust="spacingAndGlyphs">-3606-Mut-I,II,III-NFE2-Luc</text>
<text x="41.91" y="713.70" font-size="8.7" font-weight="bold" fill="#000" stroke="#000" stroke-width="0.42" textLength="55.58" lengthAdjust="spacingAndGlyphs">-1740-NFE2-Luc</text>
<text x="85.21" y="739.70" font-size="8.7" font-weight="bold" fill="#000" stroke="#000" stroke-width="0.42" textLength="17.58" lengthAdjust="spacingAndGlyphs">pGL3</text>
<rect x="122.95" y="607.95" width="7.53" height="8.30" fill="#fff" stroke="#000" stroke-width="1.5"/>
<rect x="131.98" y="607.95" width="7.53" height="8.30" fill="#fff" stroke="#000" stroke-width="1.5"/>
<rect x="141.02" y="607.95" width="7.53" height="8.30" fill="#fff" stroke="#000" stroke-width="1.5"/>
<rect x="122.65" y="633.25" width="7.20" height="9.10" fill="#fff" stroke="#000" stroke-width="1.5"/>
<line x1="123.40" y1="634.00" x2="129.10" y2="641.60" stroke="#000" stroke-width="1.0"/>
<line x1="129.10" y1="634.00" x2="123.40" y2="641.60" stroke="#000" stroke-width="1.0"/>
<rect x="140.85" y="633.25" width="7.00" height="9.10" fill="#fff" stroke="#000" stroke-width="1.5"/>
<line x1="141.60" y1="634.00" x2="147.10" y2="641.60" stroke="#000" stroke-width="1.0"/>
<line x1="147.10" y1="634.00" x2="141.60" y2="641.60" stroke="#000" stroke-width="1.0"/>
<rect x="130.35" y="657.85" width="7.60" height="8.50" fill="#fff" stroke="#000" stroke-width="1.5"/>
<line x1="131.10" y1="658.60" x2="137.20" y2="665.60" stroke="#000" stroke-width="1.0"/>
<line x1="137.20" y1="658.60" x2="131.10" y2="665.60" stroke="#000" stroke-width="1.0"/>
<rect x="121.55" y="682.85" width="7.33" height="8.70" fill="#fff" stroke="#000" stroke-width="1.5"/>
<line x1="122.30" y1="683.60" x2="128.13" y2="690.80" stroke="#000" stroke-width="1.0"/>
<line x1="128.13" y1="683.60" x2="122.30" y2="690.80" stroke="#000" stroke-width="1.0"/>
<rect x="130.38" y="682.85" width="7.33" height="8.70" fill="#fff" stroke="#000" stroke-width="1.5"/>
<line x1="131.13" y1="683.60" x2="136.97" y2="690.80" stroke="#000" stroke-width="1.0"/>
<line x1="136.97" y1="683.60" x2="131.13" y2="690.80" stroke="#000" stroke-width="1.0"/>
<rect x="139.22" y="682.85" width="7.33" height="8.70" fill="#fff" stroke="#000" stroke-width="1.5"/>
<line x1="139.97" y1="683.60" x2="145.80" y2="690.80" stroke="#000" stroke-width="1.0"/>
<line x1="145.80" y1="683.60" x2="139.97" y2="690.80" stroke="#000" stroke-width="1.0"/>
<line x1="116.50" y1="612.20" x2="227.00" y2="612.20" stroke="#000" stroke-width="1.5"/>
<line x1="117.50" y1="637.30" x2="227.00" y2="637.30" stroke="#000" stroke-width="1.5"/>
<line x1="117.00" y1="661.90" x2="227.00" y2="661.90" stroke="#000" stroke-width="1.5"/>
<line x1="117.00" y1="686.80" x2="227.00" y2="686.80" stroke="#000" stroke-width="1.5"/>
<line x1="173.10" y1="710.30" x2="227.00" y2="710.30" stroke="#000" stroke-width="1.5"/>
<g>
<rect x="227.45" y="606.35" width="15.20" height="11.20" fill="#fff" stroke="#000" stroke-width="1.7"/>
<clipPath id="c476"><rect x="228.30" y="607.20" width="13.50" height="9.50"/></clipPath>
<g clip-path="url(#c476)">
<line x1="216.50" y1="616.70" x2="223.81" y2="607.20" stroke="#000" stroke-width="1.1"/>
<line x1="222.50" y1="616.70" x2="229.81" y2="607.20" stroke="#000" stroke-width="1.1"/>
<line x1="228.50" y1="616.70" x2="235.81" y2="607.20" stroke="#000" stroke-width="1.1"/>
<line x1="234.50" y1="616.70" x2="241.81" y2="607.20" stroke="#000" stroke-width="1.1"/>
<line x1="240.50" y1="616.70" x2="247.81" y2="607.20" stroke="#000" stroke-width="1.1"/>
</g></g>
<g>
<rect x="227.45" y="631.15" width="15.20" height="11.20" fill="#fff" stroke="#000" stroke-width="1.7"/>
<clipPath id="c486"><rect x="228.30" y="632.00" width="13.50" height="9.50"/></clipPath>
<g clip-path="url(#c486)">
<line x1="216.50" y1="641.50" x2="223.81" y2="632.00" stroke="#000" stroke-width="1.1"/>
<line x1="222.50" y1="641.50" x2="229.81" y2="632.00" stroke="#000" stroke-width="1.1"/>
<line x1="228.50" y1="641.50" x2="235.81" y2="632.00" stroke="#000" stroke-width="1.1"/>
<line x1="234.50" y1="641.50" x2="241.81" y2="632.00" stroke="#000" stroke-width="1.1"/>
<line x1="240.50" y1="641.50" x2="247.81" y2="632.00" stroke="#000" stroke-width="1.1"/>
</g></g>
<g>
<rect x="227.45" y="656.05" width="15.20" height="11.20" fill="#fff" stroke="#000" stroke-width="1.7"/>
<clipPath id="c496"><rect x="228.30" y="656.90" width="13.50" height="9.50"/></clipPath>
<g clip-path="url(#c496)">
<line x1="216.50" y1="666.40" x2="223.81" y2="656.90" stroke="#000" stroke-width="1.1"/>
<line x1="222.50" y1="666.40" x2="229.81" y2="656.90" stroke="#000" stroke-width="1.1"/>
<line x1="228.50" y1="666.40" x2="235.81" y2="656.90" stroke="#000" stroke-width="1.1"/>
<line x1="234.50" y1="666.40" x2="241.81" y2="656.90" stroke="#000" stroke-width="1.1"/>
<line x1="240.50" y1="666.40" x2="247.81" y2="656.90" stroke="#000" stroke-width="1.1"/>
</g></g>
<g>
<rect x="227.45" y="680.35" width="15.20" height="11.20" fill="#fff" stroke="#000" stroke-width="1.7"/>
<clipPath id="c506"><rect x="228.30" y="681.20" width="13.50" height="9.50"/></clipPath>
<g clip-path="url(#c506)">
<line x1="216.50" y1="690.70" x2="223.81" y2="681.20" stroke="#000" stroke-width="1.1"/>
<line x1="222.50" y1="690.70" x2="229.81" y2="681.20" stroke="#000" stroke-width="1.1"/>
<line x1="228.50" y1="690.70" x2="235.81" y2="681.20" stroke="#000" stroke-width="1.1"/>
<line x1="234.50" y1="690.70" x2="241.81" y2="681.20" stroke="#000" stroke-width="1.1"/>
<line x1="240.50" y1="690.70" x2="247.81" y2="681.20" stroke="#000" stroke-width="1.1"/>
</g></g>
<g>
<rect x="227.45" y="704.25" width="15.20" height="11.20" fill="#fff" stroke="#000" stroke-width="1.7"/>
<clipPath id="c516"><rect x="228.30" y="705.10" width="13.50" height="9.50"/></clipPath>
<g clip-path="url(#c516)">
<line x1="216.50" y1="714.60" x2="223.81" y2="705.10" stroke="#000" stroke-width="1.1"/>
<line x1="222.50" y1="714.60" x2="229.81" y2="705.10" stroke="#000" stroke-width="1.1"/>
<line x1="228.50" y1="714.60" x2="235.81" y2="705.10" stroke="#000" stroke-width="1.1"/>
<line x1="234.50" y1="714.60" x2="241.81" y2="705.10" stroke="#000" stroke-width="1.1"/>
<line x1="240.50" y1="714.60" x2="247.81" y2="705.10" stroke="#000" stroke-width="1.1"/>
</g></g>
<g>
<rect x="227.45" y="728.95" width="15.20" height="11.20" fill="#fff" stroke="#000" stroke-width="1.7"/>
<clipPath id="c526"><rect x="228.30" y="729.80" width="13.50" height="9.50"/></clipPath>
<g clip-path="url(#c526)">
<line x1="216.50" y1="739.30" x2="223.81" y2="729.80" stroke="#000" stroke-width="1.1"/>
<line x1="222.50" y1="739.30" x2="229.81" y2="729.80" stroke="#000" stroke-width="1.1"/>
<line x1="228.50" y1="739.30" x2="235.81" y2="729.80" stroke="#000" stroke-width="1.1"/>
<line x1="234.50" y1="739.30" x2="241.81" y2="729.80" stroke="#000" stroke-width="1.1"/>
<line x1="240.50" y1="739.30" x2="247.81" y2="729.80" stroke="#000" stroke-width="1.1"/>
</g></g>
<line x1="247.40" y1="598.00" x2="247.40" y2="745.50" stroke="#333" stroke-width="1.1"/>
<line x1="247.40" y1="598.00" x2="249.60" y2="598.00" stroke="#000" stroke-width="1.0"/>
<line x1="247.40" y1="622.80" x2="249.60" y2="622.80" stroke="#000" stroke-width="1.0"/>
<line x1="247.40" y1="648.00" x2="249.60" y2="648.00" stroke="#000" stroke-width="1.0"/>
<line x1="247.40" y1="672.40" x2="249.60" y2="672.40" stroke="#000" stroke-width="1.0"/>
<line x1="247.40" y1="696.50" x2="249.60" y2="696.50" stroke="#000" stroke-width="1.0"/>
<line x1="247.40" y1="721.40" x2="249.60" y2="721.40" stroke="#000" stroke-width="1.0"/>
<line x1="246.90" y1="745.50" x2="502.50" y2="745.50" stroke="#333" stroke-width="1.4"/>
<line x1="290.00" y1="745.50" x2="290.00" y2="743.30" stroke="#000" stroke-width="1.0"/>
<line x1="332.50" y1="745.50" x2="332.50" y2="743.30" stroke="#000" stroke-width="1.0"/>
<line x1="375.00" y1="745.50" x2="375.00" y2="743.30" stroke="#000" stroke-width="1.0"/>
<line x1="417.00" y1="745.50" x2="417.00" y2="743.30" stroke="#000" stroke-width="1.0"/>
<line x1="459.40" y1="745.50" x2="459.40" y2="743.30" stroke="#000" stroke-width="1.0"/>
<line x1="502.50" y1="745.50" x2="502.50" y2="743.30" stroke="#000" stroke-width="1.0"/>
<text x="245.21" y="757.30" font-size="9.2" font-weight="bold" fill="#000" stroke="#000" stroke-width="0.42" textLength="4.58" lengthAdjust="spacingAndGlyphs">0</text>
<text x="279.21" y="757.30" font-size="9.2" font-weight="bold" fill="#000" stroke="#000" stroke-width="0.42" textLength="4.58" lengthAdjust="spacingAndGlyphs">1</text>
<text x="313.41" y="757.30" font-size="9.2" font-weight="bold" fill="#000" stroke="#000" stroke-width="0.42" textLength="4.58" lengthAdjust="spacingAndGlyphs">2</text>
<text x="347.41" y="757.30" font-size="9.2" font-weight="bold" fill="#000" stroke="#000" stroke-width="0.42" textLength="4.58" lengthAdjust="spacingAndGlyphs">3</text>
<text x="384.71" y="757.30" font-size="9.2" font-weight="bold" fill="#000" stroke="#000" stroke-width="0.42" textLength="4.58" lengthAdjust="spacingAndGlyphs">4</text>
<text x="418.71" y="757.30" font-size="9.2" font-weight="bold" fill="#000" stroke="#000" stroke-width="0.42" textLength="4.58" lengthAdjust="spacingAndGlyphs">5</text>
<text x="455.21" y="757.30" font-size="9.2" font-weight="bold" fill="#000" stroke="#000" stroke-width="0.42" textLength="4.58" lengthAdjust="spacingAndGlyphs">6</text>
<text x="343.21" y="600.00" font-size="9.5" font-weight="bold" fill="#000" stroke="#000" stroke-width="0.42" textLength="22.18" lengthAdjust="spacingAndGlyphs">UKE1</text>
<text x="344.81" y="773.50" font-size="9.3" font-weight="bold" fill="#000" stroke="#000" stroke-width="0.42" textLength="52.68" lengthAdjust="spacingAndGlyphs">Fold Activity</text>
<line x1="429.80" y1="610.50" x2="441.40" y2="610.50" stroke="#000" stroke-width="1.0"/>
<line x1="441.10" y1="608.90" x2="441.10" y2="612.10" stroke="#000" stroke-width="1.5"/>
<rect x="248.00" y="605.50" width="181.80" height="10.50" fill="#000"/>
<line x1="372.30" y1="635.50" x2="400.50" y2="635.50" stroke="#000" stroke-width="1.0"/>
<line x1="400.20" y1="633.90" x2="400.20" y2="637.10" stroke="#000" stroke-width="1.5"/>
<rect x="248.00" y="630.00" width="124.30" height="10.50" fill="#000"/>
<line x1="444.60" y1="660.50" x2="466.20" y2="660.50" stroke="#000" stroke-width="1.0"/>
<line x1="465.90" y1="658.90" x2="465.90" y2="662.10" stroke="#000" stroke-width="1.5"/>
<rect x="248.00" y="655.10" width="196.60" height="10.30" fill="#000"/>
<line x1="338.60" y1="684.50" x2="344.10" y2="684.50" stroke="#000" stroke-width="1.0"/>
<line x1="343.80" y1="682.90" x2="343.80" y2="686.10" stroke="#000" stroke-width="1.5"/>
<rect x="248.00" y="679.30" width="90.60" height="10.60" fill="#000"/>
<line x1="296.60" y1="708.50" x2="309.40" y2="708.50" stroke="#000" stroke-width="1.0"/>
<line x1="309.10" y1="706.90" x2="309.10" y2="710.10" stroke="#000" stroke-width="1.5"/>
<rect x="248.00" y="703.70" width="48.60" height="10.30" fill="#000"/>
<rect x="248.00" y="728.60" width="42.00" height="10.60" fill="#000"/>
<polyline points="476.30,609.40 482.00,609.40 482.00,634.30 476.30,634.30" fill="none" stroke="#2a2a2a" stroke-width="1.5"/>
<line x1="483.40" y1="621.70" x2="489.00" y2="621.70" stroke="#000" stroke-width="1.4"/>
<line x1="484.80" y1="619.28" x2="487.60" y2="624.12" stroke="#000" stroke-width="1.4"/>
<line x1="487.60" y1="619.28" x2="484.80" y2="624.12" stroke="#000" stroke-width="1.4"/>
<polyline points="486.20,609.40 491.70,609.40 491.70,689.00 486.20,689.00" fill="none" stroke="#2a2a2a" stroke-width="1.5"/>
<line x1="493.40" y1="659.60" x2="499.00" y2="659.60" stroke="#000" stroke-width="1.4"/>
<line x1="494.80" y1="657.18" x2="497.60" y2="662.02" stroke="#000" stroke-width="1.4"/>
<line x1="497.60" y1="657.18" x2="494.80" y2="662.02" stroke="#000" stroke-width="1.4"/>
<polyline points="498.00,609.40 503.40,609.40 503.40,714.20 498.00,714.20" fill="none" stroke="#2a2a2a" stroke-width="1.5"/>
<line x1="504.60" y1="676.40" x2="510.20" y2="676.40" stroke="#000" stroke-width="1.4"/>
<line x1="506.00" y1="673.98" x2="508.80" y2="678.82" stroke="#000" stroke-width="1.4"/>
<line x1="508.80" y1="673.98" x2="506.00" y2="678.82" stroke="#000" stroke-width="1.4"/>
<polyline points="507.90,609.40 513.30,609.40 513.30,734.60 507.90,734.60" fill="none" stroke="#2a2a2a" stroke-width="1.5"/>
<line x1="514.50" y1="694.30" x2="520.10" y2="694.30" stroke="#000" stroke-width="1.4"/>
<line x1="515.90" y1="691.88" x2="518.70" y2="696.72" stroke="#000" stroke-width="1.4"/>
<line x1="518.70" y1="691.88" x2="515.90" y2="696.72" stroke="#000" stroke-width="1.4"/>
</svg></body></html>
